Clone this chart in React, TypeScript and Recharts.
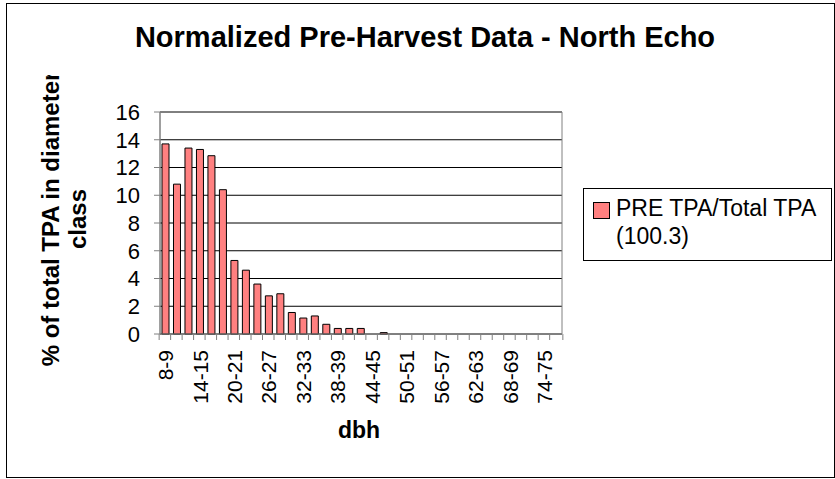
import React from 'react';
import { BarChart, Bar, XAxis, YAxis, CartesianGrid, Legend, ReferenceArea, Label } from 'recharts';

// diameter classes (inches) on the x axis
const dbhClasses = [
    '8-9', '10-11', '12-13', '14-15', '16-17', '18-19', '20-21', '22-23', '24-25',
    '26-27', '28-29', '30-31', '32-33', '34-35', '36-37', '38-39', '40-41', '42-43',
    '44-45', '46-47', '48-49', '50-51', '52-53', '54-55', '56-57', '58-59', '60-61',
    '62-63', '64-65', '66-67', '68-69', '70-71', '72-73', '74-75', '76-77',
];

// PRE TPA / Total TPA, percent per class
const preTpaPct = [
    13.7, 10.8, 13.4, 13.3, 12.85, 10.4, 5.3, 4.6, 3.6,
    2.75, 2.9, 1.55, 1.15, 1.3, 0.7, 0.4, 0.4, 0.4,
    0, 0.1, 0, 0, 0, 0, 0, 0, 0,
    0, 0, 0, 0, 0, 0, 0, 0,
];

const yTicks = [0, 2, 4, 6, 8, 10, 12, 14, 16];

const seriesName = 'PRE TPA/Total TPA';
const seriesNote = '(100.3)';

const data = dbhClasses.map((dbh, i) => ({ dbh, pct: preTpaPct[i] }));

const W = 835;
const H = 479;
const MARGIN = { top: 112, right: 273, bottom: 45, left: 100 };
const PLOT_W = W - MARGIN.left - MARGIN.right;
const BAND = PLOT_W / dbhClasses.length;
const TICK_SIZE = 6;
const X_TICK_MARGIN = 10;
const AXIS_GREY = '#808080';
const BAR_FILL = '#FF8080';

// Excel-style ticks: marks on the band edges, labels on every third class
const DbhTick = (props: any) => {
    const { x, y, payload, index } = props;
    const axisY = y - X_TICK_MARGIN - TICK_SIZE;
    const edge = x - BAND / 2;
    return (
        <g>
            <line x1={edge} y1={axisY} x2={edge} y2={axisY + TICK_SIZE} stroke={AXIS_GREY} />
            {index === dbhClasses.length - 1 && (
                <line x1={x + BAND / 2} y1={axisY} x2={x + BAND / 2} y2={axisY + TICK_SIZE} stroke={AXIS_GREY} />
            )}
            {index % 3 === 0 && (
                <text
                    x={x}
                    y={y}
                    transform={`rotate(-90, ${x}, ${y})`}
                    textAnchor="end"
                    dy="0.35em"
                    fontSize={21}
                    fill="#000"
                >
                    {payload.value}
                </text>
            )}
        </g>
    );
};

// y title is clipped at the top like the original
const YTitle = () => (
    <g>
        <defs>
            <clipPath id="yTitleClip">
                <rect x={0} y={75} width={150} height={400} />
            </clipPath>
        </defs>
        <g clipPath="url(#yTitleClip)" fontWeight="bold" fontSize={24} fill="#000">
            <text transform="translate(59,219) rotate(-90)" textAnchor="middle">% of total TPA in diameter</text>
            <text transform="translate(86,219) rotate(-90)" textAnchor="middle">class</text>
        </g>
    </g>
);

const XTitle = () => (
    <text x={359} y={438} textAnchor="middle" fontWeight="bold" fontSize={23} fill="#000">dbh</text>
);

const LegendBox = () => (
    <svg width={249} height={73} style={{ display: 'block' }}>
        <rect x={0.5} y={0.5} width={248} height={72} fill="#fff" stroke="#000" />
        <rect x={10.5} y={14.5} width={16} height={16} fill={BAR_FILL} stroke="#000" />
        <text x={33} y={28} fontSize={23} fill="#000">{seriesName}</text>
        <text x={33} y={56} fontSize={23} fill="#000">{seriesNote}</text>
    </svg>
);

export default function App() {
    return (
        <div style={{ position: 'absolute', left: 0, top: 0, width: W, height: H, background: '#fff', fontFamily: '"Liberation Sans", Arial, sans-serif' }}>
            <div style={{ position: 'absolute', left: 6, top: 3, width: 827, height: 473, border: '1px solid #000' }} />
            <svg width={W} height={80} style={{ position: 'absolute', left: 0, top: 0 }}>
                <text x={425} y={47} textAnchor="middle" fontWeight="bold" fontSize={29} fill="#000">
                    Normalized Pre-Harvest Data - North Echo
                </text>
            </svg>
            <div style={{ position: 'absolute', left: 0, top: 0 }}>
                <BarChart width={W} height={H} data={data} margin={MARGIN} barSize={7}>
                    <CartesianGrid vertical={false} stroke="#000" />
                    <ReferenceArea y1={0} y2={16} fill="none" stroke={AXIS_GREY} />
                    <XAxis
                        dataKey="dbh"
                        interval={0}
                        height={100}
                        tick={<DbhTick />}
                        tickLine={false}
                        tickSize={TICK_SIZE}
                        tickMargin={X_TICK_MARGIN}
                        axisLine={{ stroke: AXIS_GREY }}
                    >
                        <Label content={<XTitle />} />
                    </XAxis>
                    <YAxis
                        domain={[0, 16]}
                        ticks={yTicks}
                        interval={0}
                        width={60}
                        tick={{ fill: '#000', fontSize: 22 }}
                        tickSize={TICK_SIZE}
                        tickMargin={14}
                        tickLine={{ stroke: AXIS_GREY }}
                        axisLine={{ stroke: AXIS_GREY }}
                    >
                        <Label content={<YTitle />} />
                    </YAxis>
                    <Legend
                        layout="vertical"
                        align="center"
                        verticalAlign="middle"
                        content={<LegendBox />}
                        wrapperStyle={{ left: 583, top: 188, width: 249, height: 73 }}
                    />
                    <Bar dataKey="pct" name={seriesName} fill={BAR_FILL} stroke="#000" strokeWidth={1} isAnimationActive={false} />
                </BarChart>
            </div>
        </div>
    );
}
